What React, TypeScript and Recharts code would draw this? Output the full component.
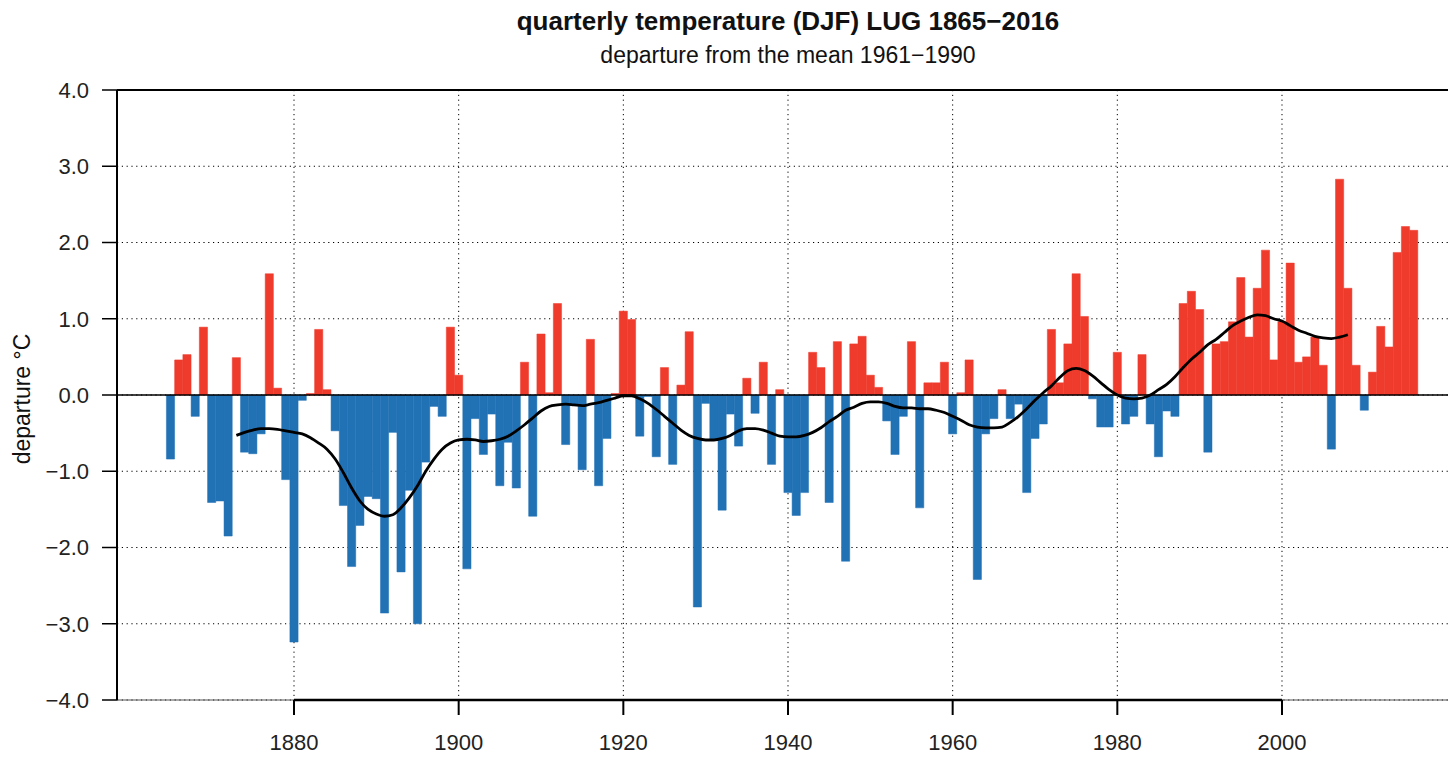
import {
  ComposedChart,
  Bar,
  Cell,
  Line,
  XAxis,
  YAxis,
  CartesianGrid,
  ReferenceLine,
} from 'recharts';

const FIRST_YEAR = 1865;
const SMOOTH_FIRST_YEAR = 1873;

// DJF departures from 1961-1990 mean, one per year 1865..2016
const departures = [
  -0.84, 0.46, 0.53, -0.28, 0.89, -1.41, -1.39, -1.85, 0.49, -0.75,
  -0.77, -0.51, 1.59, 0.09, -1.11, -3.24, -0.07, 0.02, 0.86, 0.07,
  -0.47, -1.45, -2.25, -1.71, -1.33, -1.36, -2.86, -0.49, -2.32, -1.25,
  -3.0, -0.88, -0.15, -0.28, 0.89, 0.26, -2.28, -0.31, -0.78, -0.25,
  -1.19, -0.62, -1.22, 0.43, -1.59, 0.8, 0.03, 1.2, -0.65, -0.12,
  -0.98, 0.73, -1.19, -0.57, 0.02, 1.1, 0.99, -0.54, -0.02, -0.81,
  0.36, -0.91, 0.13, 0.83, -2.78, -0.11, -0.58, -1.51, -0.25, -0.67,
  0.22, -0.24, 0.43, -0.91, 0.07, -1.28, -1.58, -1.28, 0.56, 0.36,
  -1.41, 0.7, -2.18, 0.67, 0.77, 0.26, 0.1, -0.34, -0.78, -0.28,
  0.7, -1.48, 0.16, 0.16, 0.43, -0.51, 0.03, 0.46, -2.42, -0.51,
  -0.31, 0.07, -0.31, -0.12, -1.28, -0.57, -0.38, 0.86, 0.16, 0.67,
  1.59, 1.03, -0.05, -0.42, -0.42, 0.56, -0.38, -0.28, 0.53, -0.38,
  -0.81, -0.21, -0.28, 1.2, 1.36, 1.12, -0.75, 0.67, 0.7, 0.96,
  1.54, 0.76, 1.4, 1.9, 0.46, 0.96, 1.73, 0.43, 0.5, 0.76,
  0.39, -0.71, 2.83, 1.4, 0.39, -0.2, 0.3, 0.9, 0.63, 1.87,
  2.21, 2.16,
];

// smoothed curve, 1873..2008
const smoothed = [
  -0.53, -0.49, -0.46, -0.44, -0.44, -0.45, -0.47, -0.49, -0.51, -0.56,
  -0.63, -0.71, -0.84, -1.02, -1.22, -1.39, -1.5, -1.56, -1.59, -1.57,
  -1.48, -1.35, -1.19, -1.0, -0.84, -0.71, -0.63, -0.59, -0.58, -0.59,
  -0.61, -0.6, -0.58, -0.54, -0.47, -0.39, -0.3, -0.21, -0.15, -0.13,
  -0.12, -0.13, -0.14, -0.12, -0.1, -0.07, -0.04, -0.01, -0.01, -0.05,
  -0.11, -0.19, -0.28, -0.37, -0.46, -0.53, -0.57, -0.59, -0.59, -0.57,
  -0.53, -0.47, -0.44, -0.44, -0.46, -0.5, -0.54, -0.55, -0.55, -0.53,
  -0.49, -0.43, -0.35, -0.28, -0.2, -0.16, -0.11, -0.09, -0.09, -0.11,
  -0.15, -0.17, -0.17, -0.18, -0.18, -0.2, -0.23, -0.28, -0.33, -0.39,
  -0.42, -0.43, -0.43, -0.42, -0.36, -0.28, -0.18, -0.07, 0.03, 0.12,
  0.23, 0.32, 0.35, 0.32, 0.25, 0.16, 0.07, 0.0, -0.04, -0.05,
  -0.04, 0.0, 0.07, 0.14, 0.24, 0.36, 0.47, 0.56, 0.66, 0.73,
  0.82, 0.91, 0.97, 1.02, 1.05, 1.04, 1.0, 0.97, 0.91, 0.85,
  0.81, 0.77, 0.75, 0.74, 0.76, 0.79,
];

const xTicks = [1880, 1900, 1920, 1940, 1960, 1980, 2000];
const yTicks = [-4, -3, -2, -1, 0, 1, 2, 3, 4];

const data = departures.map((value, i) => {
  const year = FIRST_YEAR + i;
  const s = smoothed[year - SMOOTH_FIRST_YEAR];
  return { year, value, smooth: s === undefined ? null : s };
});

const FONT = '"Liberation Sans", Arial, Helvetica, sans-serif';
const RED = '#EF3B2C';
const BLUE = '#2171B5';

const fmtY = (v: number) =>
  v < 0 ? '\u2212' + Math.abs(v).toFixed(1) : v.toFixed(1);

export default function App() {
  return (
    <div
      style={{
        position: 'relative',
        margin: -8,
        width: 1456,
        height: 758,
        overflow: 'hidden',
        background: '#fff',
        fontFamily: FONT,
        color: '#111',
      }}
    >
      <div
        style={{
          position: 'absolute',
          left: 0,
          width: 1576,
          top: 6,
          textAlign: 'center',
          fontSize: 26,
          fontWeight: 'bold',
          lineHeight: '30px',
        }}
      >
        quarterly temperature (DJF) LUG 1865{'\u2212'}2016
      </div>
      <div
        style={{
          position: 'absolute',
          left: 0,
          width: 1576,
          top: 42,
          textAlign: 'center',
          fontSize: 23,
          lineHeight: '26px',
        }}
      >
        departure from the mean 1961{'\u2212'}1990
      </div>
      <div
        style={{
          position: 'absolute',
          left: 22 - 100,
          top: 399 - 14,
          width: 200,
          height: 28,
          lineHeight: '28px',
          textAlign: 'center',
          fontSize: 23,
          transform: 'rotate(-90deg)',
        }}
      >
        departure °C
      </div>

      <ComposedChart
        width={1470}
        height={758}
        data={data}
        margin={{ top: 90, right: 11, bottom: 0, left: 0 }}
        barGap={0}
        barCategoryGap={0}
      >
        <CartesianGrid
          stroke="#000"
          strokeDasharray="1.2 3.6"
          strokeWidth={1}
        />
        <XAxis
          dataKey="year"
          type="number"
          domain={[1858.5, 2021.5]}
          ticks={xTicks}
          allowDataOverflow
          height={58}
          axisLine={false}
          tickLine={{ stroke: '#000', strokeWidth: 2 }}
          tickSize={15}
          tickMargin={19}
          tick={{ fill: '#222', fontSize: 22, fontFamily: FONT }}
        />
        <YAxis
          domain={[-4, 4]}
          ticks={yTicks}
          width={117}
          axisLine={{ stroke: '#000', strokeWidth: 2 }}
          tickLine={{ stroke: '#000', strokeWidth: 1.5 }}
          tickSize={15}
          tickMargin={13}
          tickFormatter={fmtY}
          tick={{ fill: '#222', fontSize: 22, fontFamily: FONT }}
        />
        <ReferenceLine y={-4} stroke="#555" strokeWidth={1} />
        <ReferenceLine y={4} stroke="#000" strokeWidth={2} />
        <ReferenceLine
          segment={[
            { x: 1880, y: -4 },
            { x: 2000, y: -4 },
          ]}
          stroke="#000"
          strokeWidth={2.5}
          ifOverflow="visible"
        />
        <Bar dataKey="value" barSize={8.2} isAnimationActive={false}>
          {data.map((d) => {
            const c = d.value >= 0 ? RED : BLUE;
            return <Cell key={d.year} fill={c} stroke={c} strokeWidth={0.5} />;
          })}
        </Bar>
        <ReferenceLine y={0} stroke="#000" strokeWidth={1.5} />
        <Line
          dataKey="smooth"
          type="monotone"
          stroke="#000"
          strokeWidth={2.8}
          dot={false}
          activeDot={false}
          isAnimationActive={false}
        />
      </ComposedChart>
    </div>
  );
}
